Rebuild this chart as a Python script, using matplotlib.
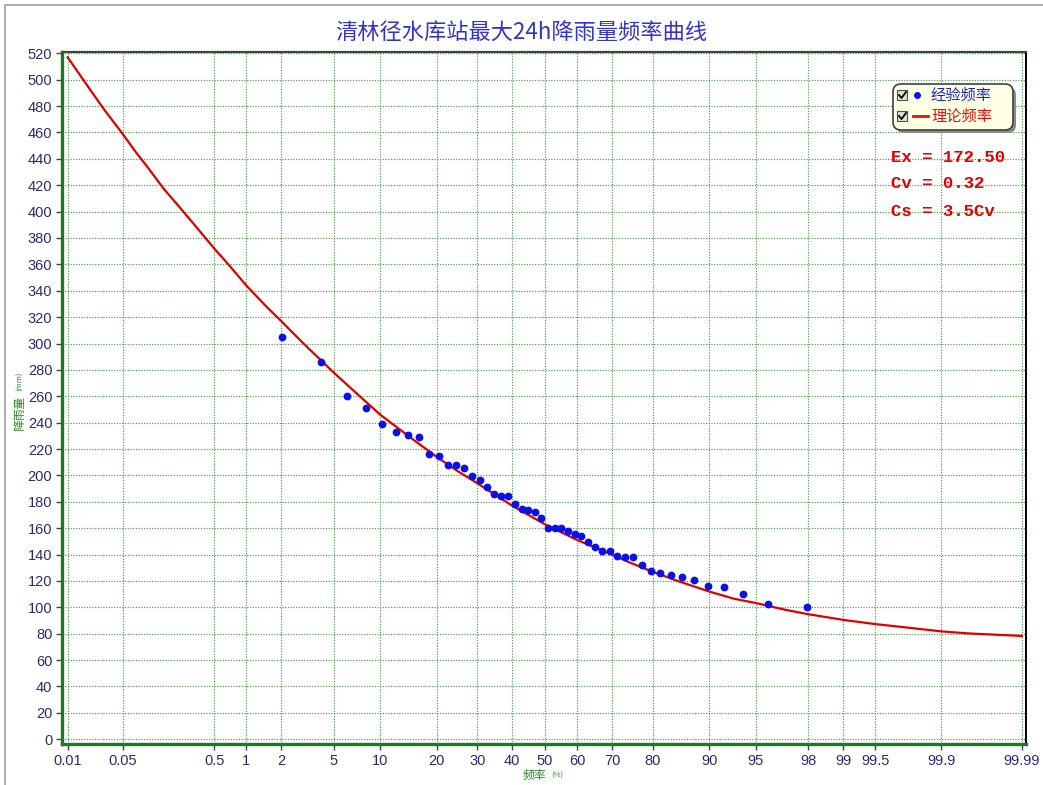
import numpy as np
import matplotlib
matplotlib.use("Agg")
import matplotlib.pyplot as plt
from matplotlib.patches import FancyBboxPatch, Rectangle
from statistics import NormalDist

plt.rcParams['font.family'] = ['Noto Sans CJK SC', 'DejaVu Sans']

# empirical frequency (%) and rainfall (mm)
freq = [2.04, 4.08, 6.12, 8.16, 10.20, 12.24, 14.29, 16.33, 18.37, 20.41,
        22.45, 24.49, 26.53, 28.57, 30.61, 32.65, 34.69, 36.73, 38.78, 40.82,
        42.86, 44.90, 46.94, 48.98, 51.02, 53.06, 55.10, 57.14, 59.18, 61.22,
        63.27, 65.31, 67.35, 69.39, 71.43, 73.47, 75.51, 77.55, 79.59, 81.63,
        83.67, 85.71, 87.76, 89.80, 91.84, 93.88, 95.92, 97.96]
rain = [304.9, 286.2, 260.4, 251.1, 239.0, 232.6, 230.9, 229.4, 216.5, 214.4,
        207.9, 207.9, 205.6, 199.3, 196.5, 191.4, 185.6, 184.1, 184.1, 178.6,
        174.2, 173.5, 172.0, 167.8, 160.3, 160.5, 160.5, 157.5, 155.7, 154.2,
        149.9, 146.1, 142.9, 142.9, 139.1, 138.1, 138.1, 132.3, 127.7, 126.2,
        124.2, 122.7, 120.9, 116.4, 115.4, 109.8, 102.8, 100.3]

# theoretical curve
curve_p = [0.01, 0.02, 0.03, 0.05, 0.07, 0.1, 0.15, 0.2, 0.3, 0.5, 0.7, 1,
           1.5, 2, 3, 5, 7, 10, 15, 20, 25, 30, 40, 50, 60, 70, 75, 80, 85, 90,
           93, 95, 97, 98, 99, 99.5, 99.7, 99.9, 99.95, 99.99]
curve_v = [517, 492, 477, 459, 446, 433, 417, 407, 392, 372, 359, 344,
           328, 317, 300, 278, 263, 246, 228, 214, 203, 194, 177, 163, 151,
           140, 133.5, 127, 120, 112, 106.5, 103.3, 98, 94.8, 90.5, 87.3, 85.5,
           81.8, 80.3, 78.3]

xticks = [0.01, 0.05, 0.5, 1, 2, 5, 10, 20, 30, 40, 50, 60, 70, 80, 90, 95,
          98, 99, 99.5, 99.9, 99.99]
xticklabels = ['0.01', '0.05', '0.5', '1', '2', '5', '10', '20', '30', '40',
               '50', '60', '70', '80', '90', '95', '98', '99', '99.5', '99.9',
               '99.99']
yticks = list(range(0, 521, 20))

stats = ['Ex = 172.50', 'Cv = 0.32', 'Cs = 3.5Cv']

nd = NormalDist()


def fwd(p):
    p = np.clip(np.asarray(p, dtype=float), 1e-6, 100 - 1e-6)
    out = [nd.inv_cdf(v / 100.0) if np.isfinite(v) else np.nan for v in p.ravel()]
    return np.array(out).reshape(p.shape)


def inv(z):
    z = np.asarray(z, dtype=float)
    out = [nd.cdf(v) * 100.0 if np.isfinite(v) else np.nan for v in z.ravel()]
    return np.array(out).reshape(z.shape)


W, H = 1043, 785
fig = plt.figure(figsize=(W / 100, H / 100), dpi=100)
ax = fig.add_axes([62 / W, 1 - 744 / H, 964 / W, 692 / H])
ax.set_xscale('function', functions=(fwd, inv))

ax.plot(curve_p, curve_v, color='#dd0000', lw=1.6, zorder=3)
ax.plot(freq, rain, 'o', color='#0a10e8', ms=4.6, mec='#0a10e8', zorder=4)

ax.set_xlim(0.0084, 99.9912)
ax.set_ylim(-3.6, 521)
ax.set_xticks(xticks)
ax.set_xticklabels(xticklabels)
ax.set_yticks(yticks)
ax.xaxis.set_minor_locator(matplotlib.ticker.NullLocator())

ax.grid(True, color='#3a8f3a', ls=(0, (1, 1.3)), lw=0.85, alpha=0.9)
ax.set_axisbelow(True)

for s in ['left', 'bottom']:
    ax.spines[s].set_color('#1b7a1b')
    ax.spines[s].set_linewidth(2.4)
ax.spines['top'].set_color('#3a4a3a')
ax.spines['top'].set_linewidth(1.6)
ax.spines['right'].set_color('#000000')
ax.spines['right'].set_linewidth(1.4)

ax.tick_params(direction='out', length=4, width=1, color='#444444',
               labelcolor='#2b2b6b', labelsize=10.5, pad=3)
for lab in ax.get_xticklabels() + ax.get_yticklabels():
    lab.set_family('Liberation Sans')

# outer frame
fig.add_artist(Rectangle((0.05, -0.5), 12, H / 100 - 0.05 + 0.5,
                         transform=fig.dpi_scale_trans, fill=False,
                         edgecolor='#a0a0a0', lw=1.2))


def px(x, y):
    return x / 100, (H - y) / 100


tr = fig.dpi_scale_trans

fig.text(0.5, 1 - 33 / H, '清林径水库站最大24h降雨量频率曲线', ha='center',
         va='center', color='#3535c5', fontsize=16)

# axis labels
fig.text(*px(20, 413), '降雨量', transform=tr, rotation=90, ha='center',
         va='center', color='#2a8a2a', fontsize=8.5)
fig.text(*px(20, 381), '(mm)', transform=tr, rotation=90, ha='center',
         va='center', color='#2a8a2a', fontsize=5.5)
fig.text(*px(534, 775), '频率', transform=tr, ha='center', va='center',
         color='#2a8a2a', fontsize=8.5)
fig.text(*px(557, 776), '(%)', transform=tr, ha='center', va='center',
         color='#2a8a2a', fontsize=5.5)

# legend box
x0, y0 = px(893, 130)
fig.add_artist(FancyBboxPatch((x0 + 0.03, y0 - 0.03), 1.2, 0.46,
                              boxstyle='round,pad=0,rounding_size=0.08',
                              transform=tr, facecolor='#8a8a8a',
                              edgecolor='none', zorder=5))
fig.add_artist(FancyBboxPatch((x0, y0), 1.2, 0.46,
                              boxstyle='round,pad=0,rounding_size=0.08',
                              transform=tr, facecolor='#ffffe4',
                              edgecolor='#404040', lw=1.2, zorder=6))

rows = [(95, '经验频率', '#2424c8'), (116, '理论频率', '#e01010')]
for i, (yy, txt, col) in enumerate(rows):
    bx, by = px(897, yy + 5)
    fig.add_artist(Rectangle((bx, by), 0.1, 0.1, transform=tr,
                             facecolor='#d6e4d6', edgecolor='#505050',
                             lw=0.8, zorder=7))
    cx = [px(899, yy), px(901.5, yy + 3), px(906, yy - 3)]
    fig.add_artist(matplotlib.lines.Line2D([c[0] for c in cx], [c[1] for c in cx],
                                           transform=tr, color='black', lw=1.3,
                                           zorder=8))
    if i == 0:
        mx, my = px(917, yy)
        fig.add_artist(matplotlib.lines.Line2D([mx], [my], marker='o', ms=4,
                                               color='#0a10e8', transform=tr,
                                               zorder=8))
    else:
        l0 = px(913, yy)
        l1 = px(928, yy)
        fig.add_artist(matplotlib.lines.Line2D([l0[0], l1[0]], [l0[1], l1[1]],
                                               color='#e01010', lw=2,
                                               transform=tr, zorder=8))
    fig.text(*px(931, yy), txt, transform=tr, ha='left', va='center',
             color=col, fontsize=11, zorder=8)

for yy, s in zip([158, 184, 211], stats):
    fig.text(*px(891, yy), s, transform=tr, ha='left', va='center',
             color='#e00000', family='Liberation Mono', weight='bold',
             fontsize=12.5)

fig.savefig('out.png', dpi=100)
